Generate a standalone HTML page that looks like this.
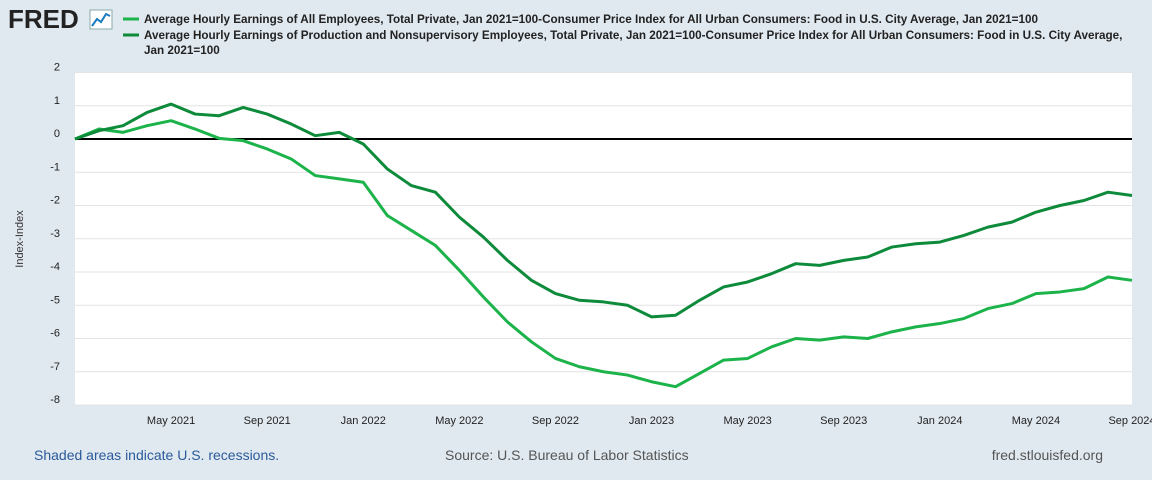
<!DOCTYPE html>
<html><head><meta charset="utf-8"><style>
html,body{margin:0;padding:0;background:#e1e9f0;width:1152px;height:480px;overflow:hidden;font-family:"Liberation Sans",Arial,sans-serif}
svg{display:block}
</style></head><body>
<svg id="chart" width="1152" height="480">
<rect x="0" y="0" width="1152" height="480" fill="#e1e9f0"/>
<g>
<text x="8" y="28" font-size="26" font-weight="bold" fill="#222" font-family="Liberation Sans,sans-serif">FRED</text>
<rect x="90" y="10" width="22" height="19" fill="#fff" stroke="#8aa"/>
<polyline points="92,26 97,19 101,22 106,14 110,16" fill="none" stroke="#1a7ac0" stroke-width="2"/>
</g>
<g>
<line x1="123" y1="19" x2="139" y2="19" stroke="#1cb34a" stroke-width="3"/>
<text x="144" y="23" font-size="11.7" font-weight="bold" fill="#222">Average Hourly Earnings of All Employees, Total Private, Jan 2021=100-Consumer Price Index for All Urban Consumers: Food in U.S. City Average, Jan 2021=100</text>
<line x1="123" y1="35" x2="139" y2="35" stroke="#0d8a3a" stroke-width="3"/>
<text x="144" y="39" font-size="11.7" font-weight="bold" fill="#222">Average Hourly Earnings of Production and Nonsupervisory Employees, Total Private, Jan 2021=100-Consumer Price Index for All Urban Consumers: Food in U.S. City Average,</text>
<text x="144" y="54" font-size="11.7" font-weight="bold" fill="#222">Jan 2021=100</text>
</g>
<rect x="75" y="73" width="1057" height="332" fill="#fff"/>
<g id="grid"></g><g id="yt"></g><g id="xt"></g><g id="lines"></g>
<text transform="translate(23,239) rotate(-90)" font-size="11" fill="#333" text-anchor="middle">Index-Index</text>
<text x="34" y="460" font-size="14" fill="#2a5a9a">Shaded areas indicate U.S. recessions.</text>
<text x="445" y="460" font-size="14" fill="#555">Source: U.S. Bureau of Labor Statistics</text>
<text x="1103" y="460" font-size="14" fill="#555" text-anchor="end">fred.stlouisfed.org</text>
</svg>
<script>
const yTicks=[2,1,0,-1,-2,-3,-4,-5,-6,-7,-8];
const xTickLabels=["May 2021","Sep 2021","Jan 2022","May 2022","Sep 2022","Jan 2023","May 2023","Sep 2023","Jan 2024","May 2024","Sep 2024"];
const xTickMonths=[4,8,12,16,20,24,28,32,36,40,44];
const allEmployees=[0,0.3,0.2,0.4,0.55,0.3,0.02,-0.05,-0.3,-0.6,-1.1,-1.2,-1.3,-2.3,-2.75,-3.2,-3.95,-4.75,-5.5,-6.1,-6.6,-6.85,-7.0,-7.1,-7.3,-7.45,-7.05,-6.65,-6.6,-6.25,-6.0,-6.05,-5.95,-6.0,-5.8,-5.65,-5.55,-5.4,-5.1,-4.95,-4.65,-4.6,-4.5,-4.15,-4.25];
const production=[0,0.25,0.4,0.8,1.05,0.75,0.7,0.95,0.75,0.45,0.1,0.2,-0.15,-0.9,-1.4,-1.6,-2.35,-2.95,-3.65,-4.25,-4.65,-4.85,-4.9,-5.0,-5.35,-5.3,-4.85,-4.45,-4.3,-4.05,-3.75,-3.8,-3.65,-3.55,-3.25,-3.15,-3.1,-2.9,-2.65,-2.5,-2.2,-2.0,-1.85,-1.6,-1.7];
const NS="http://www.w3.org/2000/svg";
const X0=75,X1=1132,NM=44,Y0=139,PU=33.25;
const x=m=>X0+(X1-X0)*m/NM;
const y=v=>Y0-v*PU;
function mk(t,a,p){const e=document.createElementNS(NS,t);for(const k in a)e.setAttribute(k,a[k]);document.getElementById(p).appendChild(e);return e;}
yTicks.forEach(v=>{
 if(v!==0){const g=mk('line',{x1:X0,x2:X1,y1:y(v),y2:y(v),stroke:'#e4e4e4','stroke-width':1},'grid');
 
 }
 const t=mk('text',{x:60,y:y(v)-2,'font-size':11,fill:'#222','text-anchor':'end'},'yt');t.textContent=v;
 
 
});
xTickMonths.forEach((m,i)=>{
 const t=mk('text',{x:x(m),y:424,'font-size':11,fill:'#222','text-anchor':'middle'},'xt');t.textContent=xTickLabels[i];
 
 
});
const z=mk('line',{x1:X0,x2:X1,y1:y(0),y2:y(0),stroke:'#000','stroke-width':2},'lines');


function series(d,c,n){const p=mk('polyline',{points:d.map((v,i)=>x(i)+','+y(v)).join(' '),fill:'none',stroke:c,'stroke-width':3,'stroke-linejoin':'round'},'lines');
 
 }
series(allEmployees,'#1cb34a','series-all-employees');
series(production,'#0d8a3a','series-production');
</script>
</body></html>
